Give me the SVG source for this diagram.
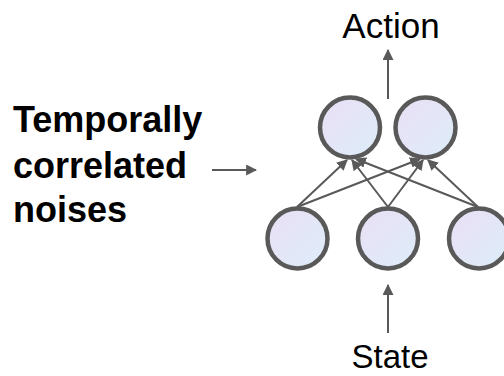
<svg xmlns="http://www.w3.org/2000/svg" width="504" height="376" viewBox="0 0 504 376">
  <style>
    .node { stroke: #595959; stroke-width: 4.5; fill: url(#nodeFill); }
    .edge { stroke: #595959; stroke-width: 2; fill: none; marker-end: url(#arrow); }
    .label { font-family: "Liberation Sans", Arial, sans-serif; fill: #000; }
    .big { font-size: 35px; }
    .bold { font-size: 36px; font-weight: bold; }
  </style>
  <defs>
    <linearGradient id="nodeFill" x1="0" y1="0" x2="1" y2="1">
      <stop offset="0" stop-color="#ebdff6"/>
      <stop offset="1" stop-color="#dcedf9"/>
    </linearGradient>
    <marker id="arrow" viewBox="0 0 10 10" refX="9" refY="5" markerWidth="5.5" markerHeight="5.5" orient="auto" markerUnits="strokeWidth">
      <path d="M0,0 L10,5 L0,10 z" fill="#595959"/>
    </marker>
  </defs>

  <rect width="504" height="376" fill="#fff"/>

  <!-- connectors -->
  <g id="connectors">
    <line class="edge" x1="297" y1="207" x2="347" y2="160"/>
    <line class="edge" x1="388" y1="207" x2="352" y2="160"/>
    <line class="edge" x1="478" y1="207" x2="356" y2="159"/>
    <line class="edge" x1="297" y1="207" x2="420" y2="159"/>
    <line class="edge" x1="388" y1="207" x2="423" y2="160"/>
    <line class="edge" x1="478" y1="207" x2="428" y2="160"/>
    <line class="edge" x1="388" y1="99" x2="388" y2="50"/>
    <line class="edge" x1="388" y1="333" x2="388" y2="285"/>
    <line class="edge" x1="212" y1="170" x2="256" y2="170"/>
  </g>

  <!-- output layer -->
  <g id="out1"><circle class="node" cx="350" cy="127.5" r="30"/></g>
  <g id="out2"><circle class="node" cx="425.5" cy="127.5" r="30"/></g>

  <!-- input layer -->
  <g id="in1"><circle class="node" cx="297.5" cy="238.5" r="30"/></g>
  <g id="in2"><circle class="node" cx="388" cy="238.5" r="30"/></g>
  <g id="in3"><circle class="node" cx="479" cy="238.5" r="30"/></g>

  <!-- labels -->
  <g id="action"><text class="label big" x="391" y="38" text-anchor="middle">Action</text></g>
  <g id="state"><text class="label" font-size="33" x="390" y="368" text-anchor="middle">State</text></g>
  <g id="noise">
    <text class="label bold" x="13" y="132">Temporally</text>
    <text class="label bold" x="13" y="178">correlated</text>
    <text class="label bold" x="13" y="222">noises</text>
  </g>
</svg>
